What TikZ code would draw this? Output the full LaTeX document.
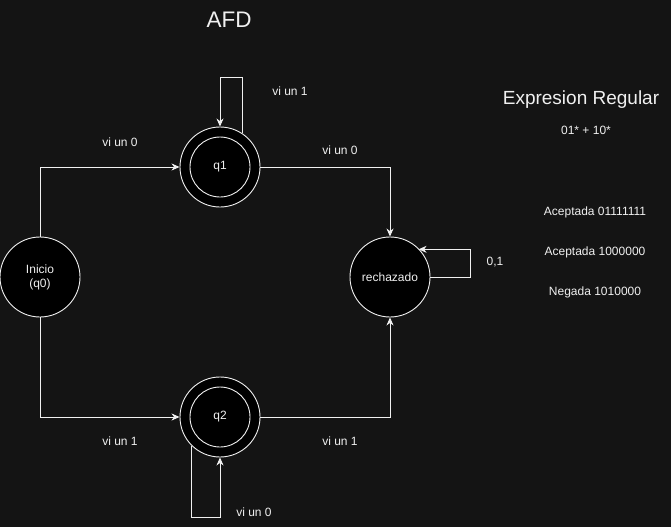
\documentclass[tikz,border=0pt]{standalone}
\usepackage{fontspec}
\setmainfont{Liberation Sans}
\usetikzlibrary{arrows.meta}
\definecolor{bg}{HTML}{141414}
\definecolor{fg}{HTML}{F0F0F0}
\begin{document}
\begin{tikzpicture}[x=1pt,y=-1pt,
  state/.style={circle,draw=fg,fill=black,minimum size=80pt,inner sep=0pt,line width=0.9pt,text=fg,font=\fontsize{12}{14}\selectfont,align=center},
  innerring/.style={circle,draw=fg,minimum size=60pt,inner sep=0pt,line width=0.9pt},
  edge/.style={draw=fg,line width=0.9pt,-{Stealth[length=8pt,width=7pt,inset=2.5pt]}},
  lbl/.style={text=fg,font=\fontsize{12}{14}\selectfont,inner sep=0pt}]
\fill[bg] (0,0) rectangle (671,527);
\useasboundingbox (0,0) rectangle (671,527);
% states
\node[state] (q0) at (40,277) {Inicio\\(q0)};
\node[state] (q1) at (220,167) {};
\node[innerring] (q1i) at (220,167) {};
\node[text=fg,font=\fontsize{12}{14}\selectfont] (q1t) at (220,167) {q1};
\node[state] (q2) at (220,417) {};
\node[innerring] (q2i) at (220,417) {};
\node[text=fg,font=\fontsize{12}{14}\selectfont] (q2t) at (220,417) {q2};
\node[state] (r) at (390,277) {rechazado};
% transitions
\draw[edge] (q0.north) |- (q1.west);
\draw[edge] (q0.south) |- (q2.west);
\draw[edge] (q1.east) -| (r.north);
\draw[edge] (q2.east) -| (r.south);
% self loops
\coordinate (l1a) at (249,77);
\coordinate (l1b) at (220,77);
\draw[edge] (q1.56) -- (q1.56 |- l1a) -- (l1b) -- (q1.north);
\coordinate (l2a) at (192,517);
\coordinate (l2b) at (220,517);
\draw[edge] (q2.225) -- (q2.225 |- l2a) -- (l2b) -- (q2.south);
\coordinate (l3a) at (470.7,277);
\coordinate (l3b) at (470.7,249.3);
\draw[edge] (r.east) -- (l3a) -- (l3b) -- (r.45 |- l3b);
% labels
\node[lbl] (t1) at (120,142) {vi un 0};
\node[lbl] (t2) at (290,91) {vi un 1};
\node[lbl] (t3) at (340,150) {vi un 0};
\node[lbl] (t4) at (495,262) {0,1};
\node[lbl] (t5) at (120,441) {vi un 1};
\node[lbl] (t6) at (340,441) {vi un 1};
\node[lbl] (t7) at (254,512) {vi un 0};
\node[lbl,font=\fontsize{22.5}{26}\selectfont] (title) at (229,20) {AFD};
\node[lbl,font=\fontsize{19}{22}\selectfont] (er) at (581,100) {Expresion Regular};
\node[lbl] (ex) at (586,130) {01* + 10*};
\node[lbl] (a1) at (595,212) {Aceptada 01111111};
\node[lbl] (a2) at (595,252) {Aceptada 1000000};
\node[lbl] (n1) at (595,292) {Negada 1010000};
\end{tikzpicture}
\end{document}
